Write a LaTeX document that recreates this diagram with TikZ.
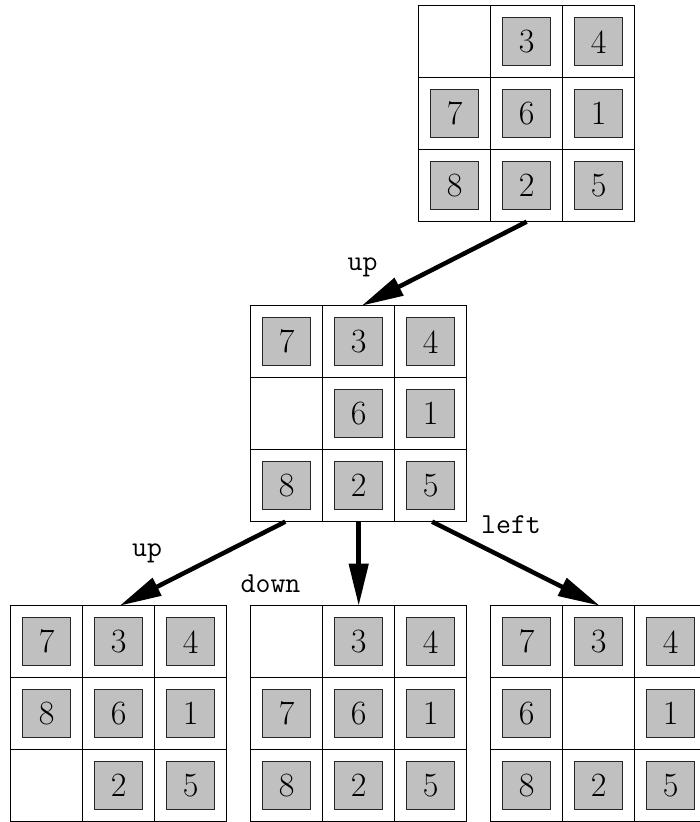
\documentclass[tikz,border=0pt]{standalone}
\usetikzlibrary{arrows.meta,calc}
\definecolor{tilegray}{RGB}{192,192,192}
\tikzset{
  boardbox/.style={draw=black,line width=0.9pt,minimum size=216pt,inner sep=0pt,outer sep=0pt},
  gridline/.style={draw=black,line width=0.9pt},
  tile/.style={draw=black!85,line width=0.9pt,fill=tilegray,minimum size=48pt,inner sep=0pt,
    font=\fontsize{34}{34}\selectfont},
  move/.style={line width=4.5pt,-{Triangle[length=42pt,width=19pt]}},
  movelabel/.style={anchor=base,font=\ttfamily\fontsize{29}{29}\selectfont,inner sep=0pt}
}
\newcommand\puzzleboard[4]{%
  \node[boardbox] (#1) at (#2+108,#3+108) {};
  \draw[gridline] ($(#1.north west)+(72,0)$) -- ($(#1.south west)+(72,0)$);
  \draw[gridline] ($(#1.north west)+(144,0)$) -- ($(#1.south west)+(144,0)$);
  \draw[gridline] ($(#1.north west)+(0,72)$) -- ($(#1.north east)+(0,72)$);
  \draw[gridline] ($(#1.north west)+(0,144)$) -- ($(#1.north east)+(0,144)$);
  \foreach \v [count=\i from 0] in {#4} {
    \pgfmathtruncatemacro\cc{mod(\i,3)}
    \pgfmathtruncatemacro\rr{int(\i/3)}
    \ifnum\v>0
      \node[tile] (#1-\v) at (#2+36+72*\cc,#3+36+72*\rr) {\v};
    \fi
  }
}
\begin{document}
\begin{tikzpicture}[x=1pt,y=-1pt]
\useasboundingbox (0,0) rectangle (700,822);
\puzzleboard{top}{418.7}{5.7}{0,3,4,7,6,1,8,2,5}
\puzzleboard{mid}{250.7}{305.7}{7,3,4,0,6,1,8,2,5}
\puzzleboard{bl}{10.7}{605.7}{7,3,4,8,6,1,0,2,5}
\puzzleboard{bm}{250.7}{605.7}{0,3,4,7,6,1,8,2,5}
\puzzleboard{br}{490.7}{605.7}{7,3,4,6,0,1,8,2,5}
\draw[move] (top.south) -- ($(mid.north)+(3,0)$);
\draw[move] ($(mid.south west)!0.16!(mid.south east)$) -- ($(bl.north)+(1,0)$);
\draw[move] (mid.south) -- (bm.north);
\draw[move] ($(mid.south west)!0.84!(mid.south east)$) -- ($(br.north)+(1,0)$);
\node[movelabel] (l1) at (362.5,270) {up};
\node[movelabel] (l2) at (147,556.5) {up};
\node[movelabel] (l3) at (270.5,592.5) {down};
\node[movelabel] (l4) at (511,533) {left};
\end{tikzpicture}
\end{document}
